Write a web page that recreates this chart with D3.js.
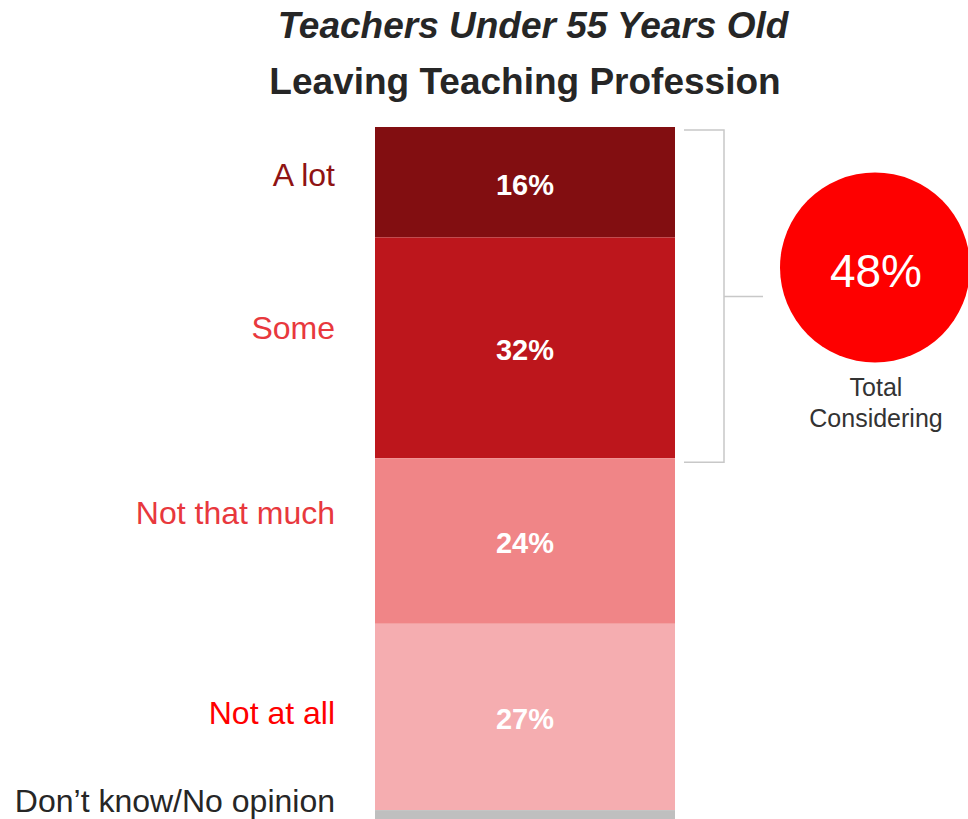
<!DOCTYPE html>
<html>
<head>
<meta charset="utf-8">
<script src="https://cdn.jsdelivr.net/npm/d3@7"></script>
<style>
  html, body { margin: 0; padding: 0; background: #fff; }
  svg { display: block; font-family: "Liberation Sans", Arial, sans-serif; }
</style>
</head>
<body>
<svg id="chart" width="968" height="819"></svg>
<script>
// ---- data ----
const titleLines = ["Teachers Under 55 Years Old", "Leaving Teaching Profession"];
const categories = ["A lot", "Some", "Not that much", "Not at all", "Don\u2019t know/No opinion"];
const values = [16, 32, 24, 27, 1];
const valueLabels = ["16%", "32%", "24%", "27%", ""];
const totalConsidering = 48;
const totalLabel = ["Total", "Considering"];

// ---- styles ----
const segColors = ["#820e11", "#bd161c", "#f08587", "#f5adb0", "#bfbfbf"];
const labelColors = ["#8f1313", "#e8383d", "#e8383d", "#ff0000", "#262626"];
const labelNudge = [-8, -20, -29, -4, -13];

const svg = d3.select("#chart");

// stack
let acc = 0;
const stacked = values.map((v, i) => {
  const d = { cat: categories[i], v, y0: acc, y1: acc + v, i };
  acc += v;
  return d;
});

const y = d3.scaleLinear().domain([0, 100]).range([127, 817]);
const x = d3.scaleBand().domain(["bar"]).range([375, 675]).padding(0);

// titles
svg.append("text")
  .attr("x", 533).attr("y", 38)
  .attr("text-anchor", "middle")
  .attr("font-size", 37).attr("font-weight", "bold").attr("font-style", "italic")
  .attr("fill", "#262626")
  .text(titleLines[0]);
svg.append("text")
  .attr("x", 525).attr("y", 94)
  .attr("text-anchor", "middle")
  .attr("font-size", 37).attr("font-weight", "bold")
  .attr("fill", "#262626")
  .text(titleLines[1]);

// bars
svg.selectAll("rect.seg").data(stacked).join("rect")
  .attr("class", "seg")
  .attr("x", x("bar"))
  .attr("width", x.bandwidth())
  .attr("y", d => y(d.y0))
  .attr("height", d => y(d.y1) - y(d.y0) + (d.i === stacked.length - 1 ? 4 : 0))
  .attr("fill", (d, i) => segColors[i]);

// value labels
svg.selectAll("text.val").data(stacked).join("text")
  .attr("class", "val")
  .attr("x", x("bar") + x.bandwidth() / 2)
  .attr("y", d => (y(d.y0) + y(d.y1)) / 2)
  .attr("dy", "0.43em")
  .attr("text-anchor", "middle")
  .attr("font-size", 29).attr("font-weight", "bold")
  .attr("fill", "#ffffff")
  .text((d, i) => valueLabels[i]);

// category labels
svg.selectAll("text.cat").data(stacked).join("text")
  .attr("class", "cat")
  .attr("x", 335)
  .attr("y", d => (y(d.y0) + y(d.y1)) / 2 + labelNudge[d.i])
  .attr("dy", "0.36em")
  .attr("text-anchor", "end")
  .attr("font-size", 32)
  .attr("fill", (d, i) => labelColors[i])
  .text(d => d.cat);

// bracket
const bTop = y(0) + 3, bBot = y(totalConsidering) + 4;
const bx = 724, bMid = (bTop + bBot) / 2 + 0.5;
svg.append("path")
  .attr("d", `M684,${bTop}H${bx}V${bBot}H684 M${bx},${bMid}H763`)
  .attr("fill", "none")
  .attr("stroke", "#c8c8c8")
  .attr("stroke-width", 1.5);

// circle
svg.append("circle")
  .attr("cx", 875).attr("cy", 267.5).attr("r", 95)
  .attr("fill", "#fe0000");
svg.append("text")
  .attr("x", 876).attr("y", 287)
  .attr("text-anchor", "middle")
  .attr("font-size", 46)
  .attr("fill", "#ffffff")
  .text(totalConsidering + "%");
svg.append("text")
  .attr("text-anchor", "middle")
  .attr("font-size", 25)
  .attr("fill", "#333333")
  .selectAll("tspan").data(totalLabel).join("tspan")
  .attr("x", 876)
  .attr("y", (d, i) => 396 + i * 31)
  .text(d => d);
</script>
</body>
</html>
